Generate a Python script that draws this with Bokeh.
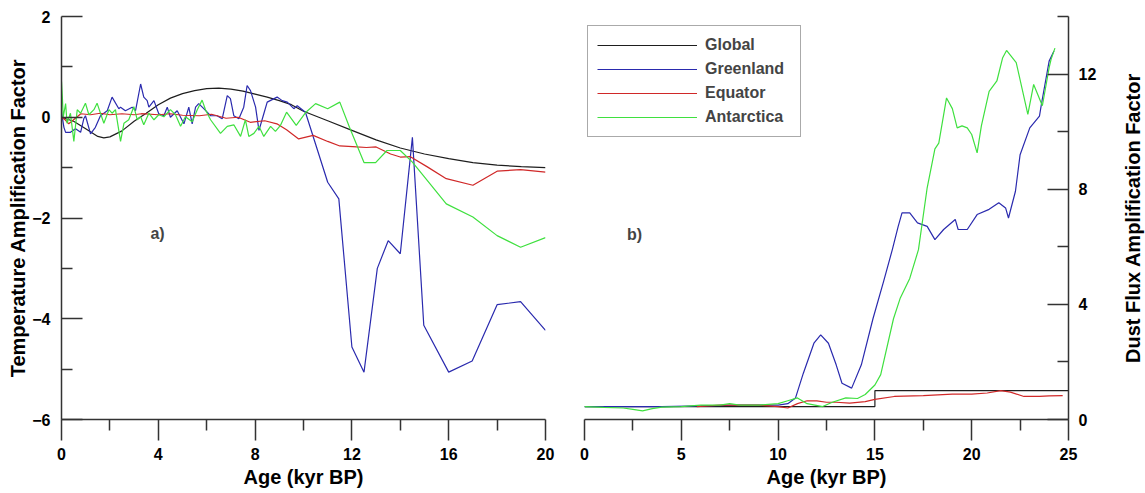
import math
from bokeh.plotting import figure
from bokeh.layouts import row
from bokeh.models import FixedTicker, Label, Legend, LegendItem
from bokeh.embed import file_html
from bokeh.resources import INLINE

# ---------------- Panel a) Temperature amplification factor ----------------
global_a_age = [0, 0.5, 1, 1.5, 1.75, 2, 2.5, 3, 3.5, 4, 4.5, 5, 5.5, 6, 6.5, 7, 7.5, 8, 8.5, 9,
                9.5, 10, 11, 12, 13, 14, 15, 16, 17, 18, 19, 20]
global_a_val = [0.0, -0.08, -0.23, -0.38, -0.41, -0.39, -0.27, -0.08, 0.08, 0.25, 0.38, 0.47, 0.53,
                0.57, 0.58, 0.56, 0.52, 0.46, 0.40, 0.33, 0.25, 0.12, -0.07, -0.26, -0.45, -0.61,
                -0.73, -0.82, -0.90, -0.95, -0.98, -1.0]

greenland_a_age = [0, 0.1, 0.17, 0.37, 0.58, 0.79, 0.92, 0.99, 1.2, 1.4, 1.61, 1.89, 2.09, 2.37, 2.44,
                   2.64, 2.92, 3.06, 3.27, 3.4, 3.54, 3.61, 3.82, 4.02, 4.23, 4.37, 4.5, 4.78, 5.06,
                   5.26, 5.4, 5.54, 5.67, 5.88, 6.16, 6.43, 6.64, 6.85, 6.98, 7.12, 7.33, 7.53, 7.67,
                   7.81, 8.02, 8.16, 8.36, 8.5, 8.91, 9.12, 9.33, 9.6, 9.74, 10.08, 11.0, 11.46, 12.0,
                   12.5, 13.05, 13.5, 14.0, 14.5, 14.97, 16.0, 16.97, 18.0, 18.97, 20]
greenland_a_val = [0.1, -0.2, -0.3, -0.3, -0.23, -0.3, -0.03, 0.03, -0.33, -0.2, 0.03, 0.13, 0.4, 0.17,
                   0.2, 0.13, 0.2, 0.13, 0.66, 0.4, 0.33, 0.2, 0.33, 0.07, 0.03, 0.2, 0.0, 0.13, -0.13,
                   0.2, -0.13, 0.2, 0.27, 0.17, 0.03, 0.03, -0.03, 0.43, 0.37, 0.03, -0.03, 0.2, 0.63,
                   0.53, 0.2, -0.26, 0.07, 0.3, 0.4, 0.33, 0.3, 0.17, 0.23, 0.1, -1.29, -1.62, -4.56,
                   -5.06, -3.0, -2.45, -2.71, -0.4, -4.13, -5.06, -4.84, -3.72, -3.66, -4.23]

equator_a_age = [0, 0.15, 0.3, 0.5, 0.8, 1.2, 1.6, 2, 2.5, 3, 3.3, 4, 4.5, 5, 5.7, 6.2, 6.8, 7.3, 7.8,
                 8.4, 8.9, 9.3, 9.8, 10.4, 11.0, 11.5, 12.2, 12.6, 13.0, 13.6, 14.0, 14.4, 15.1, 15.9,
                 17.0, 18.0, 18.97, 20]
equator_a_val = [0.0, -0.05, -0.13, -0.05, 0.07, 0.05, 0.08, 0.05, 0.07, 0.05, 0.07, 0.05, 0.07, 0.04,
                 0.03, 0.06, -0.02, 0.0, -0.1, -0.07, -0.13, -0.25, -0.43, -0.36, -0.48, -0.57, -0.59,
                 -0.6, -0.59, -0.73, -0.79, -0.78, -0.98, -1.22, -1.35, -1.07, -1.04, -1.09]

antarctica_a_age = [0, 0.04, 0.07, 0.17, 0.23, 0.37, 0.51, 0.65, 0.79, 0.99, 1.13, 1.34, 1.47, 1.75,
                    1.96, 2.09, 2.23, 2.44, 2.58, 2.78, 2.99, 3.13, 3.27, 3.4, 3.61, 3.82, 4.02, 4.23,
                    4.5, 4.71, 4.92, 5.12, 5.4, 5.61, 5.81, 5.95, 6.16, 6.57, 6.85, 7.12, 7.4, 7.6,
                    7.74, 7.95, 8.16, 8.36, 8.64, 8.84, 9.05, 9.3, 9.7, 10.1, 10.5, 11.0, 11.5, 11.9,
                    12.5, 12.98, 13.45, 14.0, 14.5, 15.9, 17.0, 18.0, 18.97, 20]
antarctica_a_val = [0.71, 0.35, 0.0, 0.27, -0.12, 0.08, -0.48, 0.15, 0.08, 0.28, 0.05, 0.15, 0.28,
                    -0.12, 0.15, 0.08, 0.15, -0.48, -0.12, -0.05, 0.21, -0.05, 0.01, -0.15, 0.08,
                    -0.05, 0.05, 0.01, 0.15, 0.05, -0.18, 0.01, -0.09, 0.15, 0.34, 0.15, -0.05, -0.32,
                    -0.18, -0.15, -0.38, -0.05, -0.38, -0.32, -0.18, -0.38, -0.18, -0.28, -0.16, 0.1,
                    -0.16, 0.1, 0.27, 0.17, 0.3, -0.2, -0.9, -0.9, -0.66, -0.66, -0.89, -1.72, -1.98,
                    -2.35, -2.58, -2.39]

# ---------------- Panel b) Dust flux amplification factor ----------------
global_b_age = [0, 15, 15, 25]
global_b_val = [0.45, 0.45, 1.0, 1.0]

greenland_b_age = [0, 2, 4, 6, 8, 10, 10.5, 10.9, 11.3, 11.85, 12.2, 12.6, 13.0, 13.3, 13.8, 14.3, 14.9,
                   15.45, 15.9, 16.2, 16.4, 16.8, 17.2, 17.7, 18.1, 18.55, 19.15, 19.3, 19.77, 20.28,
                   20.9, 21.4, 21.75, 21.9, 22.26, 22.5, 23.0, 23.5, 23.6, 24.0, 24.25]
greenland_b_val = [0.45, 0.45, 0.45, 0.47, 0.5, 0.5, 0.55, 0.75, 1.6, 2.65, 2.94, 2.65, 1.9, 1.26, 1.09,
                   1.9, 3.5, 4.8, 5.9, 6.7, 7.18, 7.18, 6.83, 6.71, 6.25, 6.6, 6.95, 6.6, 6.6, 7.12,
                   7.3, 7.53, 7.35, 7.0, 7.93, 9.2, 10.13, 10.54, 10.95, 12.45, 12.8]

equator_b_age = [5.8, 7, 8, 9, 10, 10.5, 11, 11.5, 12, 12.5, 13, 13.7, 14.5, 15, 16, 17.5, 19, 20,
                 20.8, 21.5, 22, 22.7, 23.5, 24, 24.7]
equator_b_val = [0.45, 0.5, 0.5, 0.5, 0.45, 0.4, 0.55, 0.65, 0.65, 0.6, 0.6, 0.57, 0.62, 0.7, 0.8,
                 0.83, 0.88, 0.88, 0.92, 1.0, 0.95, 0.8, 0.8, 0.82, 0.83]

antarctica_b_age = [0, 1, 2, 2.5, 3, 3.5, 4, 5, 6, 7, 7.5, 8, 9, 10, 10.5, 11, 11.5, 12.3, 12.8, 13.5,
                    14.1, 14.5, 15, 15.3, 15.96, 16.3, 16.8, 17.25, 17.7, 18.1, 18.3, 18.7, 19.0,
                    19.25, 19.5, 19.77, 20.0, 20.28, 20.5, 20.9, 21.3, 21.6, 21.8, 22.3, 22.9, 23.2,
                    23.65, 24.0, 24.1, 24.3]
antarctica_b_val = [0.45, 0.42, 0.4, 0.35, 0.3, 0.38, 0.43, 0.45, 0.5, 0.5, 0.55, 0.5, 0.5, 0.55,
                    0.65, 0.75, 0.55, 0.45, 0.6, 0.75, 0.73, 0.87, 1.2, 1.56, 3.5, 4.2, 4.9, 5.9,
                    8.05, 9.4, 9.6, 11.17, 10.8, 10.13, 10.2, 10.13, 9.9, 9.26, 10.2, 11.4, 11.76,
                    12.57, 12.82, 12.4, 10.6, 11.64, 10.9, 12.22, 12.51, 12.9]

series_names = ["Global", "Greenland", "Equator", "Antarctica"]
series_colors = ["#1e1e1e", "#2a2aae", "#d02828", "#3fe03f"]

a_x_ticks = [0, 4, 8, 12, 16, 20]
a_x_minor = [2, 6, 10, 14, 18]
a_y_ticks = [-6, -4, -2, 0, 2]
a_y_minor = [-5, -3, -1, 1]
b_x_ticks = [0, 5, 10, 15, 20, 25]
b_x_minor = [2.5, 7.5, 12.5, 17.5, 22.5]
b_y_ticks = [0, 4, 8, 12]
b_y_minor = [2, 6, 10, 14]

FONT = "Liberation Sans"
AX = "#333333"


def style(p):
    p.outline_line_color = None
    p.xgrid.visible = False
    p.ygrid.visible = False
    p.background_fill_color = "white"
    p.border_fill_color = "white"
    for ax in list(p.xaxis) + list(p.yaxis):
        ax.axis_line_color = AX
        ax.axis_line_width = 1.5
        ax.major_tick_line_color = AX
        ax.minor_tick_line_color = AX
        ax.major_tick_line_width = 1.5
        ax.minor_tick_line_width = 1.5
        ax.major_label_text_font = FONT
        ax.major_label_text_font_style = "bold"
        ax.major_label_text_font_size = "16px"
        ax.major_label_text_color = "black"
        ax.axis_label_text_font = FONT
        ax.axis_label_text_font_style = "bold"
        ax.axis_label_text_font_size = "20px"
        ax.axis_label_text_color = "black"
    for ax in p.xaxis:
        ax.major_tick_out = 21
        ax.major_tick_in = 0
        ax.minor_tick_out = 11
        ax.minor_tick_in = 0
        ax.major_label_standoff = 7
        ax.axis_label_standoff = 3
    for ax in p.yaxis:
        ax.major_tick_out = 0
        ax.major_tick_in = 21
        ax.minor_tick_out = 0
        ax.minor_tick_in = 11
        ax.major_label_standoff = 11


# ---- left figure ----
p1 = figure(width=565, height=493, x_range=(0, 20), y_range=(-6, 2),
            output_backend="svg", toolbar_location=None,
            min_border_left=61, min_border_right=20, min_border_top=16, min_border_bottom=74)
p1.xaxis.ticker = FixedTicker(ticks=a_x_ticks, minor_ticks=a_x_minor)
p1.yaxis.ticker = FixedTicker(ticks=a_y_ticks, minor_ticks=a_y_minor)
p1.xaxis.axis_label = "Age (kyr BP)"
p1.yaxis.axis_label = "Temperature Amplification Factor"
style(p1)
p1.yaxis.axis_label_standoff = 0

a_data = [(global_a_age, global_a_val), (greenland_a_age, greenland_a_val),
          (equator_a_age, equator_a_val), (antarctica_a_age, antarctica_a_val)]
for (xs, ys), c in zip(a_data, series_colors):
    p1.line(xs, ys, line_color=c, line_width=1.2)

p1.add_layout(Label(x=3.97, y=-2.31, text="a)", text_align="center", text_baseline="middle",
                    text_font=FONT, text_font_style="bold", text_font_size="16px"))

# ---- right figure ----
p2 = figure(width=550, height=493, x_range=(0, 25), y_range=(0, 14), y_axis_location="right",
            output_backend="svg", toolbar_location=None,
            min_border_left=19, min_border_right=47, min_border_top=16, min_border_bottom=74)
p2.xaxis.ticker = FixedTicker(ticks=b_x_ticks, minor_ticks=b_x_minor)
p2.yaxis.ticker = FixedTicker(ticks=b_y_ticks, minor_ticks=b_y_minor)
p2.xaxis.axis_label = "Age (kyr BP)"
style(p2)
p2.yaxis.major_label_standoff = 10

b_data = [(global_b_age, global_b_val), (greenland_b_age, greenland_b_val),
          (equator_b_age, equator_b_val), (antarctica_b_age, antarctica_b_val)]
renderers = []
for (xs, ys), c in zip(b_data, series_colors):
    renderers.append(p2.line(xs, ys, line_color=c, line_width=1.2))

legend = Legend(items=[LegendItem(label=n, renderers=[r]) for n, r in zip(series_names, renderers)],
                location=(3, 282), glyph_width=100, glyph_height=20, label_height=20,
                label_width=86, label_standoff=8, spacing=4, padding=9, margin=0,
                label_text_font=FONT, label_text_font_style="bold", label_text_font_size="16px",
                border_line_color="#555555", border_line_width=1.5, background_fill_alpha=1.0)
p2.add_layout(legend)

p2.add_layout(Label(x=2.58, y=6.43, text="b)", text_align="center", text_baseline="middle",
                    text_font=FONT, text_font_style="bold", text_font_size="16px"))

# ---- narrow strip carrying the right-hand title (reads bottom-to-top) ----
p3 = figure(width=30, height=493, x_range=(0, 1), y_range=(0, 14),
            output_backend="svg", toolbar_location=None,
            min_border_left=28, min_border_right=0, min_border_top=16, min_border_bottom=74)
p3.outline_line_color = None
p3.xgrid.visible = False
p3.ygrid.visible = False
p3.xaxis.visible = False
p3.yaxis.ticker = FixedTicker(ticks=[], minor_ticks=[])
p3.yaxis.axis_line_color = None
p3.yaxis.major_tick_out = 0
p3.yaxis.major_tick_in = 0
p3.yaxis.minor_tick_out = 0
p3.yaxis.minor_tick_in = 0
p3.yaxis.major_label_standoff = 0
p3.yaxis.axis_label = "Dust Flux Amplification Factor"
p3.yaxis.axis_label_standoff = 0
p3.yaxis.axis_label_text_font = FONT
p3.yaxis.axis_label_text_font_style = "bold"
p3.yaxis.axis_label_text_font_size = "20px"
p3.yaxis.axis_label_text_color = "black"

layout = row(p1, p2, p3)
open("out.html", "w").write(file_html(layout, INLINE))
